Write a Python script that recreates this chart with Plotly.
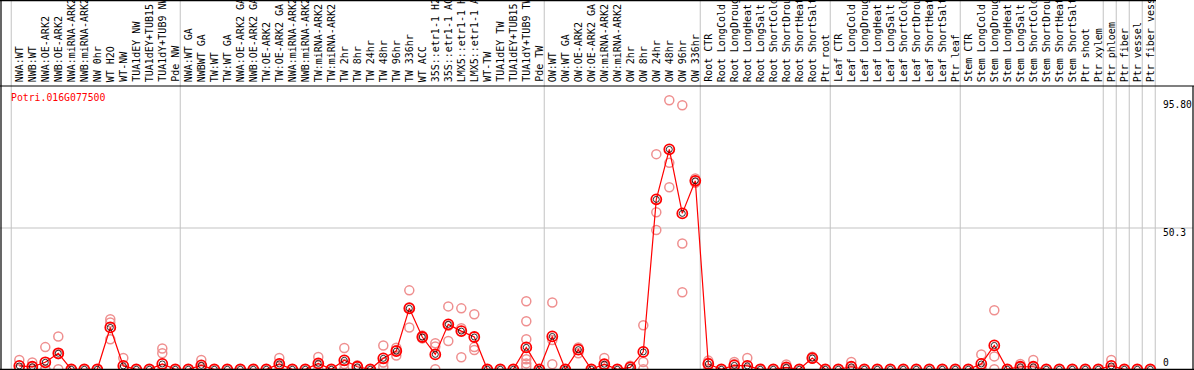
import plotly.graph_objects as go

categories = [
    "NWA:WT", "NWB:WT", "NWA:OE-ARK2", "NWB:OE-ARK2", "NWA:miRNA-ARK2", "NWB:miRNA-ARK2",
    "NW 0hr", "WT H2O", "WT-NW", "TUA1dEY NW", "TUA1dEY+TUB15", "TUA1dY+TUB9 NW", "Pde NW",
    "NWA:WT GA", "NWBWT GA", "TW:WT", "TW:WT GA", "NWA:OE-ARK2 GA", "NWB:OE-ARK2 GA",
    "TW:OE-ARK2", "TW:OE-ARK2 GA", "NWA:miRNA-ARK2", "NWB:miRNA-ARK2", "TW:miRNA-ARK2",
    "TW:miRNA-ARK2", "TW 2hr", "TW 8hr", "TW 24hr", "TW 48hr", "TW 96hr", "TW 336hr",
    "WT ACC", "35S::etr1-1 H2O", "35S::etr1-1 ACC", "LMX5::etr1-1 H2O", "LMX5::etr1-1 ACC",
    "WT-TW", "TUA1dEY TW", "TUA1dEY+TUB15 TW", "TUA1dY+TUB9 TW", "Pde TW",
    "OW:WT", "OW:WT GA", "OW:OE-ARK2", "OW:OE-ARK2 GA", "OW:miRNA-ARK2", "OW:miRNA-ARK2",
    "OW 2hr", "OW 8hr", "OW 24hr", "OW 48hr", "OW 96hr", "OW 336hr",
    "Root CTR", "Root LongCold", "Root LongDrought", "Root LongHeat", "Root LongSalt",
    "Root ShortCold", "Root ShortDrought", "Root ShortHeat", "Root ShortSalt", "Ptr root",
    "Leaf CTR", "Leaf LongCold", "Leaf LongDrought", "Leaf LongHeat", "Leaf LongSalt",
    "Leaf ShortCold", "Leaf ShortDrought", "Leaf ShortHeat", "Leaf ShortSalt", "Ptr leaf",
    "Stem CTR", "Stem LongCold", "Stem LongDrought", "Stem LongHeat", "Stem LongSalt",
    "Stem ShortCold", "Stem ShortDrought", "Stem ShortHeat", "Stem ShortSalt",
    "Ptr shoot", "Ptr xylem", "Ptr phloem", "Ptr fiber", "Ptr vessel", "Ptr fiber vessel",
]

means = [
    1.2, 0.9, 2.5, 5.7, 0, 0, 0, 14.9, 1.2, 0, 0, 1.9, 0,
    0, 1.4, 0, 0, 0, 0, 0, 1.9, 0, 0, 2.1, 0, 3.2, 0.9, 0, 3.9, 6.5, 21.7,
    11.5, 5.3, 16.0, 13.6, 11.5, 0, 0, 0, 7.8, 0,
    11.7, 0, 7.0, 0, 1.8, 0, 0.7, 6.2, 60.5, 78.3, 55.5, 67.1,
    1.9, 0, 1.4, 1.2, 0, 0, 0.7, 0, 4.0, 0,
    0, 0.9, 0, 0, 0, 0, 0, 0, 0, 0,
    0, 1.9, 8.5, 0, 0.9, 0.9, 0, 0, 0, 0,
    0, 1.2, 0, 0, 0,
]

# replicate values (index = category number, 1-based)
replicates = {
    1: [3.3, 0.3, 0], 2: [2.4, 0.3, 0], 3: [7.9, 0, 0], 4: [11.7, 5.4, 0],
    8: [17.8, 16.7, 10.7], 9: [4.0, 0, 0], 12: [7.4, 5.7, 0], 15: [3.3, 0.9, 0],
    21: [4.0, 1.7, 0], 24: [4.4, 1.9, 0], 26: [7.6, 1.9, 0], 27: [1.4, 1.2, 0],
    29: [8.5, 2.4, 0.8], 30: [7.7, 4.9, 6.9], 31: [28.1, 22.1, 14.9],
    32: [12.0, 11.0, 11.5], 33: [9.3, 8.1, 0], 34: [22.4, 15.5, 10.1],
    35: [21.7, 14.6, 4.3], 36: [19.6, 7.9, 6.9],
    40: [24.2, 17.1, 10.7, 4.7, 3.6, 2.1, 0.9], 42: [23.8, 10.4, 1.8],
    44: [7.8, 5.7, 7.5], 46: [4.0, 1.3, 0], 48: [1.3, 0.8, 0], 49: [15.7, 2.6, 0],
    50: [76.6, 55.9, 49.6], 51: [95.8, 73.5, 64.8], 52: [94.0, 44.8, 27.4],
    53: [67.9, 67.1, 66.4], 54: [3.1, 2.4, 0], 56: [2.6, 1.9, 0], 57: [4.0, 0, 0],
    60: [1.7, 0.5, 0], 62: [4.5, 3.8, 3.9], 65: [2.6, 0, 0], 75: [5.3, 0.5, 0],
    76: [21.0, 4.6, 0], 78: [1.9, 0.8, 0], 79: [3.3, 0, 0], 85: [3.3, 0.3, 0],
}

group_breaks = [0, 13, 41, 53, 63, 73, 84, 85, 86, 87, 88]
y_max_label = 95.80
y_mid_label = 50.3
gene = "Potri.016G077500"

W, H = 1194, 370
X0_PX, STEP_PX = 6.3, 13.0
Y0_PX, PX_PER_UNIT = 369.3, 2.809

def py(px):
    return 1 - px / H

def pxx(px):
    return px / W

xs = list(range(1, len(categories) + 1))
rx, ry = [], []
for i in xs:
    for v in replicates.get(i, [0, 0, 0]):
        rx.append(i)
        ry.append(v)

mono = "DejaVu Sans Mono"
fig = go.Figure()
fig.add_trace(go.Scatter(x=rx, y=ry, mode="markers", cliponaxis=False,
                         marker=dict(symbol="circle-open", size=9, color="#ef8f8f",
                                     line=dict(width=1.5, color="#ef8f8f")),
                         hoverinfo="skip"))
fig.add_trace(go.Scatter(x=xs, y=means, mode="lines", cliponaxis=False,
                         line=dict(color="#ff0000", width=1.2), hoverinfo="skip"))
fig.add_trace(go.Scatter(x=xs, y=means, mode="markers", cliponaxis=False,
                         marker=dict(symbol="circle-open", size=10, color="#ff0000",
                                     line=dict(width=1.8, color="#ff0000")),
                         hoverinfo="skip"))
fig.add_trace(go.Scatter(x=xs, y=means, mode="markers", cliponaxis=False,
                         marker=dict(symbol="circle-open", size=6, color="#000000",
                                     line=dict(width=0.8, color="#000000")),
                         hoverinfo="skip"))

shapes = []
grey = "#c3c3c3"
for k in group_breaks:
    shapes.append(dict(type="line", xref="x", yref="paper", x0=k + 0.38, x1=k + 0.38,
                       y0=0, y1=1, line=dict(color=grey, width=1), layer="below"))
shapes.append(dict(type="line", xref="paper", yref="y", x0=0, x1=pxx(1193),
                   y0=y_mid_label, y1=y_mid_label, line=dict(color=grey, width=1), layer="below"))
black = dict(color="#000000", width=1.2)
shapes.append(dict(type="line", xref="paper", yref="paper", x0=0, x1=1, y0=py(86), y1=py(86), line=black))
shapes.append(dict(type="line", xref="paper", yref="paper", x0=0, x1=pxx(1156), y0=py(0.6), y1=py(0.6), line=black))
shapes.append(dict(type="line", xref="paper", yref="paper", x0=pxx(1), x1=pxx(1), y0=0, y1=1, line=black))
shapes.append(dict(type="line", xref="paper", yref="paper", x0=pxx(1193), x1=pxx(1193), y0=0, y1=py(86), line=black))
shapes.append(dict(type="line", xref="paper", yref="paper", x0=0, x1=1, y0=py(369.3), y1=py(369.3), line=black))

annotations = []
for i, lab in zip(xs, categories):
    annotations.append(dict(x=i, y=py(84), xref="x", yref="paper", text=lab, textangle=-90,
                            xanchor="center", yanchor="bottom", showarrow=False,
                            font=dict(family=mono, size=10, color="#000000")))
annotations.append(dict(x=pxx(9), y=py(97), xref="paper", yref="paper", text=gene,
                        xanchor="left", yanchor="middle", showarrow=False,
                        font=dict(family=mono, size=9.8, color="#ff0000")))
for val, txt, ypx in [(y_max_label, f"{y_max_label:.2f}", None), (y_mid_label, f"{y_mid_label}", None), (0, "0", 362)]:
    yy = py(ypx) if ypx is not None else py(Y0_PX - val * PX_PER_UNIT + 4.5)
    annotations.append(dict(x=pxx(1161), y=yy, xref="paper", yref="paper", text=txt,
                            xanchor="left", yanchor="middle", showarrow=False,
                            font=dict(family=mono, size=9.6, color="#000000")))

x_lo = -X0_PX / STEP_PX
x_hi = (W - X0_PX) / STEP_PX
y_lo = -(H - Y0_PX) / PX_PER_UNIT
y_hi = Y0_PX / PX_PER_UNIT

fig.update_layout(
    width=W, height=H, margin=dict(l=0, r=0, t=0, b=0),
    paper_bgcolor="white", plot_bgcolor="white", showlegend=False,
    xaxis=dict(range=[x_lo, x_hi], visible=False, fixedrange=True),
    yaxis=dict(range=[y_lo, y_hi], visible=False, fixedrange=True),
    shapes=shapes, annotations=annotations,
)
fig.write_html("out.html", config={"displayModeBar": False},
               post_script="document.body.style.margin='0';document.body.style.overflow='hidden';")
